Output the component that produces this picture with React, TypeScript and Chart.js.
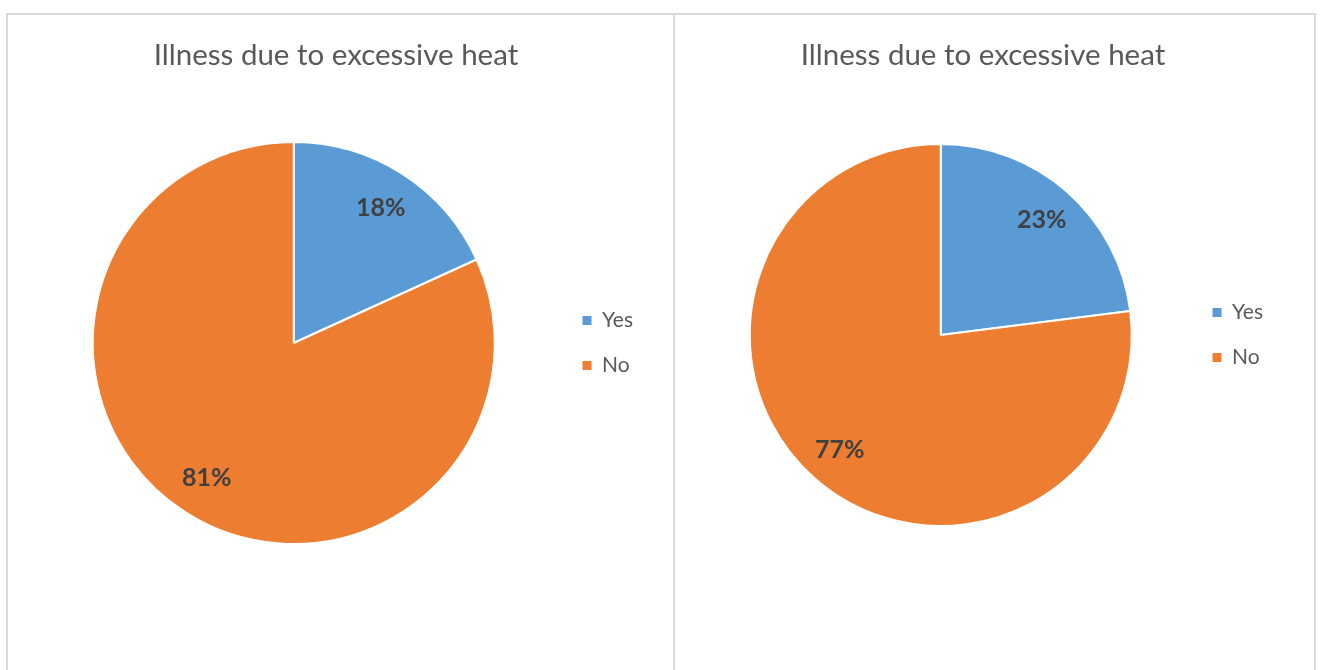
import React, { useEffect, useRef } from 'react';
import { Chart, registerables } from 'chart.js';

Chart.register(...registerables);

const categories: string[] = ['Yes', 'No'];
const leftValues: number[] = [18, 81];
const rightValues: number[] = [23, 77];
const titleText = 'Illness due to excessive heat';
const sliceColors: string[] = ['#5B9BD5', '#ED7D31'];

const FONT = 'Lato';

const pieLabels = {
  id: 'pieLabels',
  afterDatasetsDraw(chart: any) {
    const { ctx } = chart;
    const meta = chart.getDatasetMeta(0);
    const data = chart.data.datasets[0].data as number[];
    ctx.save();
    ctx.font = `bold 25px ${FONT}`;
    ctx.fillStyle = '#404040';
    ctx.textAlign = 'center';
    ctx.textBaseline = 'middle';
    meta.data.forEach((arc: any, i: number) => {
      const { x, y, startAngle, endAngle, outerRadius } = arc.getProps(
        ['x', 'y', 'startAngle', 'endAngle', 'outerRadius'],
        true
      );
      const mid = (startAngle + endAngle) / 2;
      const r = outerRadius * 0.8;
      ctx.fillText(`${data[i]}%`, x + Math.cos(mid) * r, y + Math.sin(mid) * r);
    });
    ctx.restore();
  },
};

type PieProps = {
  values: number[];
  width: number;
  height: number;
  layoutPadding: { top: number; left: number; right: number; bottom: number };
  titlePadding: { top: number; bottom: number };
};

function PieChart({ values, width, height, layoutPadding, titlePadding }: PieProps) {
  const ref = useRef<HTMLCanvasElement | null>(null);
  useEffect(() => {
    if (!ref.current) return;
    const chart = new Chart(ref.current, {
      type: 'pie',
      data: {
        labels: categories,
        datasets: [
          {
            data: values,
            backgroundColor: sliceColors,
            borderColor: '#ffffff',
            borderWidth: 2,
          },
        ],
      },
      options: {
        responsive: false,
        animation: false,
        devicePixelRatio: 1,
        layout: { padding: layoutPadding },
        plugins: {
          tooltip: { enabled: false },
          title: {
            display: true,
            text: titleText,
            color: '#595959',
            font: { family: FONT, size: 29.5, weight: 'normal' as any, lineHeight: 1.2 },
            padding: titlePadding,
          },
          legend: {
            display: true,
            position: 'right',
            fullSize: false,
            labels: {
              color: '#595959',
              font: { family: FONT, size: 21 },
              boxWidth: 9,
              boxHeight: 9,
              padding: 24,
              generateLabels: (c: any) =>
                (Chart as any).overrides.pie.plugins.legend.labels
                  .generateLabels(c)
                  .map((l: any) => ({ ...l, lineWidth: 0 })),
            },
          },
        },
      } as any,
      plugins: [pieLabels],
    });
    return () => chart.destroy();
  }, []);
  return <canvas ref={ref} width={width} height={height} style={{ display: 'block' }} />;
}

export default function App() {
  const border = '2px solid #d9d9d9';
  return (
    <div>
      <div
        style={{
          position: 'absolute',
          left: 6,
          top: 13,
          width: 665,
          height: 655,
          borderTop: border,
          borderLeft: border,
          borderRight: border,
          background: '#fff',
          overflow: 'hidden',
        }}
      >
        <PieChart
          values={leftValues}
          width={665}
          height={655}
          layoutPadding={{ top: 10, left: 21, right: 30, bottom: 125 }}
          titlePadding={{ top: 13.1, bottom: 67.5 }}
        />
      </div>
      <div
        style={{
          position: 'absolute',
          left: 675,
          top: 13,
          width: 639,
          height: 655,
          borderTop: border,
          borderRight: border,
          background: '#fff',
          overflow: 'hidden',
        }}
      >
        <PieChart
          values={rightValues}
          width={639}
          height={655}
          layoutPadding={{ top: 10, left: 18, right: 41, bottom: 143 }}
          titlePadding={{ top: 13.1, bottom: 69.5 }}
        />
      </div>
    </div>
  );
}
